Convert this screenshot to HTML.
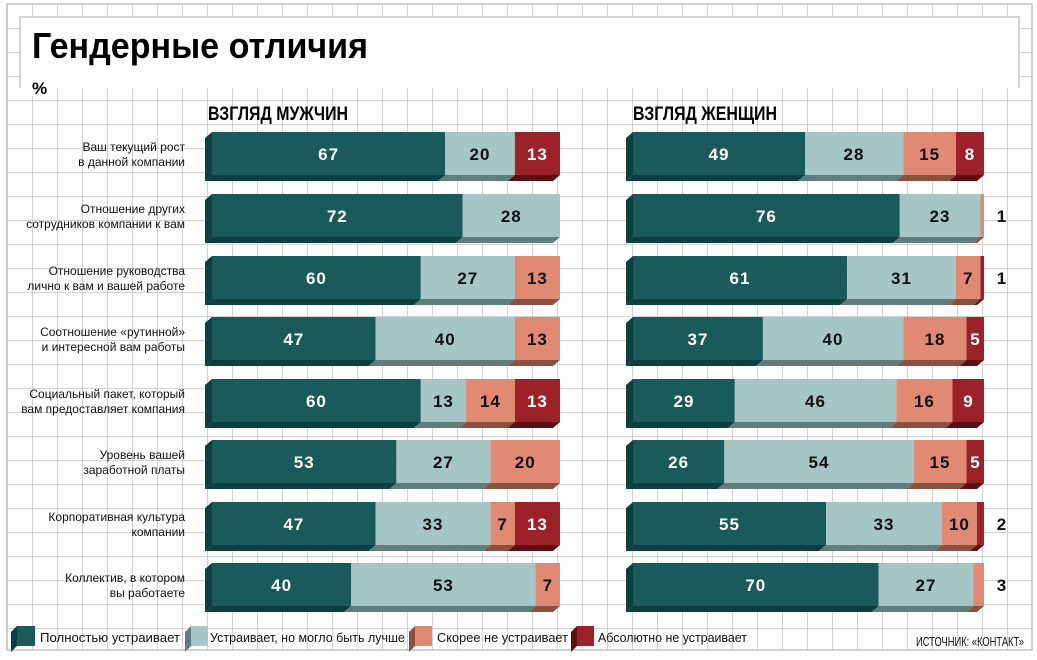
<!DOCTYPE html>
<html><head><meta charset="utf-8"><style>
html,body{margin:0;padding:0;background:#fff;}
svg{display:block;font-family:"Liberation Sans","DejaVu Sans",sans-serif;}
.n{font-size:17px;font-weight:bold;text-anchor:middle;letter-spacing:1px;}
.w{fill:#fff}.k{fill:#111}
.c{font-size:12px;text-anchor:end;fill:#111}
.lg{font-size:12.5px;fill:#111}
.T{fill:#1b5a5a}.Tb{fill:#0e3f3f}
.L{fill:#a5c6c5}.Lb{fill:#5f7d7b}
.S{fill:#e08a74}.Sb{fill:#8a5040}
.R{fill:#9b2228}.Rb{fill:#5a1015}
</style></head><body>
<svg width="1037" height="660" viewBox="0 0 1037 660">
<defs>
<pattern id="g" x="7" y="4" width="25" height="24" patternUnits="userSpaceOnUse">
<path d="M0 0V24M0 0H25" stroke="#c6c6c6" stroke-width="1.6" fill="none"/>
</pattern>
</defs>
<rect x="7" y="4" width="1025" height="646" fill="url(#g)"/>
<rect x="7" y="4" width="1025" height="646" fill="none" stroke="#c6c6c6" stroke-width="1.6"/>
<rect x="20" y="17" width="999" height="71" fill="#fff"/>
<path d="M20 88V17H1019V88" fill="none" stroke="#c6c6c6" stroke-width="1.5"/>
<rect x="28" y="80" width="22" height="16" fill="#fff"/>
<text x="32" y="58" font-size="36" font-weight="bold" textLength="336" lengthAdjust="spacingAndGlyphs">Гендерные отличия</text>
<text x="32" y="94" font-size="17" font-weight="bold">%</text>
<text x="208" y="120" font-size="19" font-weight="bold" textLength="140" lengthAdjust="spacingAndGlyphs">ВЗГЛЯД МУЖЧИН</text>
<text x="633" y="120" font-size="19" font-weight="bold" textLength="144" lengthAdjust="spacingAndGlyphs">ВЗГЛЯД ЖЕНЩИН</text>

<g class="c">
<text x="185" y="151">Ваш текущий рост</text><text x="185" y="166">в данной компании</text>
<text x="185" y="213">Отношение других</text><text x="185" y="228">сотрудников компании к вам</text>
<text x="185" y="275">Отношение руководства</text><text x="185" y="290">лично к вам и вашей работе</text>
<text x="185" y="336">Соотношение «рутинной»</text><text x="185" y="351">и интересной вам работы</text>
<text x="185" y="398">Социальный пакет, который</text><text x="185" y="413">вам предоставляет компания</text>
<text x="185" y="459">Уровень вашей</text><text x="185" y="474">заработной платы</text>
<text x="185" y="521">Корпоративная культура</text><text x="185" y="536">компании</text>
<text x="185" y="582">Коллектив, в котором</text><text x="185" y="597">вы работаете</text>
</g>

<g transform="translate(0,132)">
<polygon class="Tb" points="212,0 212,43 205,49 205,6"/>
<rect class="T" x="212" y="0" width="233.2" height="43"/><polygon class="Tb" points="212,43 445.2,43 438.2,49 205,49"/>
<rect class="L" x="445.2" y="0" width="69.6" height="43"/><polygon class="Lb" points="445.2,43 514.8,43 507.8,49 438.2,49"/>
<rect class="R" x="514.8" y="0" width="45.2" height="43"/><polygon class="Rb" points="514.8,43 560,43 553,49 507.8,49"/>
<text class="n w" x="328.6" y="28">67</text><text class="n k" x="480" y="28">20</text><text class="n w" x="537.4" y="28">13</text>
</g>
<g transform="translate(0,194)">
<polygon class="Tb" points="212,0 212,43 205,49 205,6"/>
<rect class="T" x="212" y="0" width="250.6" height="43"/><polygon class="Tb" points="212,43 462.6,43 455.6,49 205,49"/>
<rect class="L" x="462.6" y="0" width="97.4" height="43"/><polygon class="Lb" points="462.6,43 560,43 553,49 455.6,49"/>
<text class="n w" x="337.3" y="28">72</text><text class="n k" x="511.3" y="28">28</text>
</g>
<g transform="translate(0,256)">
<polygon class="Tb" points="212,0 212,43 205,49 205,6"/>
<rect class="T" x="212" y="0" width="208.8" height="43"/><polygon class="Tb" points="212,43 420.8,43 413.8,49 205,49"/>
<rect class="L" x="420.8" y="0" width="94" height="43"/><polygon class="Lb" points="420.8,43 514.8,43 507.8,49 413.8,49"/>
<rect class="S" x="514.8" y="0" width="45.2" height="43"/><polygon class="Sb" points="514.8,43 560,43 553,49 507.8,49"/>
<text class="n w" x="316.4" y="28">60</text><text class="n k" x="467.8" y="28">27</text><text class="n k" x="537.4" y="28">13</text>
</g>
<g transform="translate(0,317)">
<polygon class="Tb" points="212,0 212,43 205,49 205,6"/>
<rect class="T" x="212" y="0" width="163.6" height="43"/><polygon class="Tb" points="212,43 375.6,43 368.6,49 205,49"/>
<rect class="L" x="375.6" y="0" width="139.2" height="43"/><polygon class="Lb" points="375.6,43 514.8,43 507.8,49 368.6,49"/>
<rect class="S" x="514.8" y="0" width="45.2" height="43"/><polygon class="Sb" points="514.8,43 560,43 553,49 507.8,49"/>
<text class="n w" x="293.8" y="28">47</text><text class="n k" x="445.2" y="28">40</text><text class="n k" x="537.4" y="28">13</text>
</g>
<g transform="translate(0,379)">
<polygon class="Tb" points="212,0 212,43 205,49 205,6"/>
<rect class="T" x="212" y="0" width="208.8" height="43"/><polygon class="Tb" points="212,43 420.8,43 413.8,49 205,49"/>
<rect class="L" x="420.8" y="0" width="45.2" height="43"/><polygon class="Lb" points="420.8,43 466,43 459,49 413.8,49"/>
<rect class="S" x="466" y="0" width="48.8" height="43"/><polygon class="Sb" points="466,43 514.8,43 507.8,49 459,49"/>
<rect class="R" x="514.8" y="0" width="45.2" height="43"/><polygon class="Rb" points="514.8,43 560,43 553,49 507.8,49"/>
<text class="n w" x="316.4" y="28">60</text><text class="n k" x="443.4" y="28">13</text><text class="n k" x="490.4" y="28">14</text><text class="n w" x="537.4" y="28">13</text>
</g>
<g transform="translate(0,440)">
<polygon class="Tb" points="212,0 212,43 205,49 205,6"/>
<rect class="T" x="212" y="0" width="184.4" height="43"/><polygon class="Tb" points="212,43 396.4,43 389.4,49 205,49"/>
<rect class="L" x="396.4" y="0" width="94" height="43"/><polygon class="Lb" points="396.4,43 490.4,43 483.4,49 389.4,49"/>
<rect class="S" x="490.4" y="0" width="69.6" height="43"/><polygon class="Sb" points="490.4,43 560,43 553,49 483.4,49"/>
<text class="n w" x="304.2" y="28">53</text><text class="n k" x="443.4" y="28">27</text><text class="n k" x="525.2" y="28">20</text>
</g>
<g transform="translate(0,502)">
<polygon class="Tb" points="212,0 212,43 205,49 205,6"/>
<rect class="T" x="212" y="0" width="163.6" height="43"/><polygon class="Tb" points="212,43 375.6,43 368.6,49 205,49"/>
<rect class="L" x="375.6" y="0" width="114.8" height="43"/><polygon class="Lb" points="375.6,43 490.4,43 483.4,49 368.6,49"/>
<rect class="S" x="490.4" y="0" width="24.4" height="43"/><polygon class="Sb" points="490.4,43 514.8,43 507.8,49 483.4,49"/>
<rect class="R" x="514.8" y="0" width="45.2" height="43"/><polygon class="Rb" points="514.8,43 560,43 553,49 507.8,49"/>
<text class="n w" x="293.8" y="28">47</text><text class="n k" x="433" y="28">33</text><text class="n k" x="502.6" y="28">7</text><text class="n w" x="537.4" y="28">13</text>
</g>
<g transform="translate(0,563)">
<polygon class="Tb" points="212,0 212,43 205,49 205,6"/>
<rect class="T" x="212" y="0" width="139.2" height="43"/><polygon class="Tb" points="212,43 351.2,43 344.2,49 205,49"/>
<rect class="L" x="351.2" y="0" width="184.4" height="43"/><polygon class="Lb" points="351.2,43 535.6,43 528.6,49 344.2,49"/>
<rect class="S" x="535.6" y="0" width="24.4" height="43"/><polygon class="Sb" points="535.6,43 560,43 553,49 528.6,49"/>
<text class="n w" x="281.6" y="28">40</text><text class="n k" x="443.4" y="28">53</text><text class="n k" x="547.8" y="28">7</text>
</g>

<g transform="translate(0,132)">
<polygon class="Tb" points="633,0 633,43 626,49 626,6"/>
<rect class="T" x="633" y="0" width="172" height="43"/><polygon class="Tb" points="633,43 805,43 798,49 626,49"/>
<rect class="L" x="805" y="0" width="98.3" height="43"/><polygon class="Lb" points="805,43 903.3,43 896.3,49 798,49"/>
<rect class="S" x="903.3" y="0" width="52.7" height="43"/><polygon class="Sb" points="903.3,43 956,43 949,49 896.3,49"/>
<rect class="R" x="956" y="0" width="28" height="43"/><polygon class="Rb" points="956,43 984,43 977,49 949,49"/>
<text class="n w" x="719" y="28">49</text><text class="n k" x="854" y="28">28</text><text class="n k" x="929.6" y="28">15</text><text class="n w" x="970" y="28">8</text>
</g>
<g transform="translate(0,194)">
<polygon class="Tb" points="633,0 633,43 626,49 626,6"/>
<rect class="T" x="633" y="0" width="266.8" height="43"/><polygon class="Tb" points="633,43 899.8,43 892.8,49 626,49"/>
<rect class="L" x="899.8" y="0" width="80.7" height="43"/><polygon class="Lb" points="899.8,43 980.5,43 973.5,49 892.8,49"/>
<rect class="S" x="980.5" y="0" width="3.5" height="43"/><polygon class="Sb" points="980.5,43 984,43 977,49 973.5,49"/>
<text class="n w" x="766.4" y="28">76</text><text class="n k" x="940" y="28">23</text><text class="n k" x="1002" y="28">1</text>
</g>
<g transform="translate(0,256)">
<polygon class="Tb" points="633,0 633,43 626,49 626,6"/>
<rect class="T" x="633" y="0" width="214.1" height="43"/><polygon class="Tb" points="633,43 847.1,43 840.1,49 626,49"/>
<rect class="L" x="847.1" y="0" width="108.8" height="43"/><polygon class="Lb" points="847.1,43 955.9,43 948.9,49 840.1,49"/>
<rect class="S" x="955.9" y="0" width="24.6" height="43"/><polygon class="Sb" points="955.9,43 980.5,43 973.5,49 948.9,49"/>
<rect class="R" x="980.5" y="0" width="3.5" height="43"/><polygon class="Rb" points="980.5,43 984,43 977,49 973.5,49"/>
<text class="n w" x="740" y="28">61</text><text class="n k" x="901.5" y="28">31</text><text class="n k" x="968.2" y="28">7</text><text class="n k" x="1002" y="28">1</text>
</g>
<g transform="translate(0,317)">
<polygon class="Tb" points="633,0 633,43 626,49 626,6"/>
<rect class="T" x="633" y="0" width="129.9" height="43"/><polygon class="Tb" points="633,43 762.9,43 755.9,49 626,49"/>
<rect class="L" x="762.9" y="0" width="140.4" height="43"/><polygon class="Lb" points="762.9,43 903.3,43 896.3,49 755.9,49"/>
<rect class="S" x="903.3" y="0" width="63.2" height="43"/><polygon class="Sb" points="903.3,43 966.5,43 959.5,49 896.3,49"/>
<rect class="R" x="966.5" y="0" width="17.5" height="43"/><polygon class="Rb" points="966.5,43 984,43 977,49 959.5,49"/>
<text class="n w" x="698" y="28">37</text><text class="n k" x="833" y="28">40</text><text class="n k" x="935" y="28">18</text><text class="n w" x="975.5" y="28">5</text>
</g>
<g transform="translate(0,379)">
<polygon class="Tb" points="633,0 633,43 626,49 626,6"/>
<rect class="T" x="633" y="0" width="101.8" height="43"/><polygon class="Tb" points="633,43 734.8,43 727.8,49 626,49"/>
<rect class="L" x="734.8" y="0" width="161.5" height="43"/><polygon class="Lb" points="734.8,43 896.3,43 889.3,49 727.8,49"/>
<rect class="S" x="896.3" y="0" width="56.2" height="43"/><polygon class="Sb" points="896.3,43 952.5,43 945.5,49 889.3,49"/>
<rect class="R" x="952.5" y="0" width="31.5" height="43"/><polygon class="Rb" points="952.5,43 984,43 977,49 945.5,49"/>
<text class="n w" x="684" y="28">29</text><text class="n k" x="815.5" y="28">46</text><text class="n k" x="924.4" y="28">16</text><text class="n w" x="968.5" y="28">9</text>
</g>
<g transform="translate(0,440)">
<polygon class="Tb" points="633,0 633,43 626,49 626,6"/>
<rect class="T" x="633" y="0" width="91.3" height="43"/><polygon class="Tb" points="633,43 724.3,43 717.3,49 626,49"/>
<rect class="L" x="724.3" y="0" width="189.5" height="43"/><polygon class="Lb" points="724.3,43 913.8,43 906.8,49 717.3,49"/>
<rect class="S" x="913.8" y="0" width="52.7" height="43"/><polygon class="Sb" points="913.8,43 966.5,43 959.5,49 906.8,49"/>
<rect class="R" x="966.5" y="0" width="17.5" height="43"/><polygon class="Rb" points="966.5,43 984,43 977,49 959.5,49"/>
<text class="n w" x="678.6" y="28">26</text><text class="n k" x="819" y="28">54</text><text class="n k" x="940" y="28">15</text><text class="n w" x="975.5" y="28">5</text>
</g>
<g transform="translate(0,502)">
<polygon class="Tb" points="633,0 633,43 626,49 626,6"/>
<rect class="T" x="633" y="0" width="193" height="43"/><polygon class="Tb" points="633,43 826,43 819,49 626,49"/>
<rect class="L" x="826" y="0" width="115.8" height="43"/><polygon class="Lb" points="826,43 941.8,43 934.8,49 819,49"/>
<rect class="S" x="941.8" y="0" width="35.1" height="43"/><polygon class="Sb" points="941.8,43 976.9,43 969.9,49 934.8,49"/>
<rect class="R" x="976.9" y="0" width="7.1" height="43"/><polygon class="Rb" points="976.9,43 984,43 977,49 969.9,49"/>
<text class="n w" x="729.5" y="28">55</text><text class="n k" x="884" y="28">33</text><text class="n k" x="959.4" y="28">10</text><text class="n k" x="1002" y="28">2</text>
</g>
<g transform="translate(0,563)">
<polygon class="Tb" points="633,0 633,43 626,49 626,6"/>
<rect class="T" x="633" y="0" width="245.7" height="43"/><polygon class="Tb" points="633,43 878.7,43 871.7,49 626,49"/>
<rect class="L" x="878.7" y="0" width="94.8" height="43"/><polygon class="Lb" points="878.7,43 973.5,43 966.5,49 871.7,49"/>
<rect class="S" x="973.5" y="0" width="10.5" height="43"/><polygon class="Sb" points="973.5,43 984,43 977,49 966.5,49"/>
<text class="n w" x="755.8" y="28">70</text><text class="n k" x="926" y="28">27</text><text class="n k" x="1002" y="28">3</text>
</g>

<g>
<polygon class="Tb" points="17,626 17,646 11,652 11,632"/><rect class="T" x="17" y="626" width="18" height="20"/>
<text class="lg" x="40" y="642" textLength="140" lengthAdjust="spacingAndGlyphs">Полностью устраивает</text>
<polygon class="Lb" points="191,626 191,646 185,652 185,632"/><rect class="L" x="191" y="626" width="17" height="20"/>
<text class="lg" x="210" y="642" textLength="195" lengthAdjust="spacingAndGlyphs">Устраивает, но могло быть лучше</text>
<polygon class="Sb" points="415,626 415,646 409,652 409,632"/><rect class="S" x="415" y="626" width="17" height="20"/>
<text class="lg" x="437" y="642" textLength="131" lengthAdjust="spacingAndGlyphs">Скорее не устраивает</text>
<polygon class="Rb" points="577,626 577,646 571,652 571,632"/><rect class="R" x="577" y="626" width="17" height="20"/>
<text class="lg" x="598" y="642" textLength="149" lengthAdjust="spacingAndGlyphs">Абсолютно не устраивает</text>
<text class="lg" x="916" y="646" font-size="11.5" textLength="108" lengthAdjust="spacingAndGlyphs">ИСТОЧНИК: «КОНТАКТ»</text>
</g>
</svg>
</body></html>
